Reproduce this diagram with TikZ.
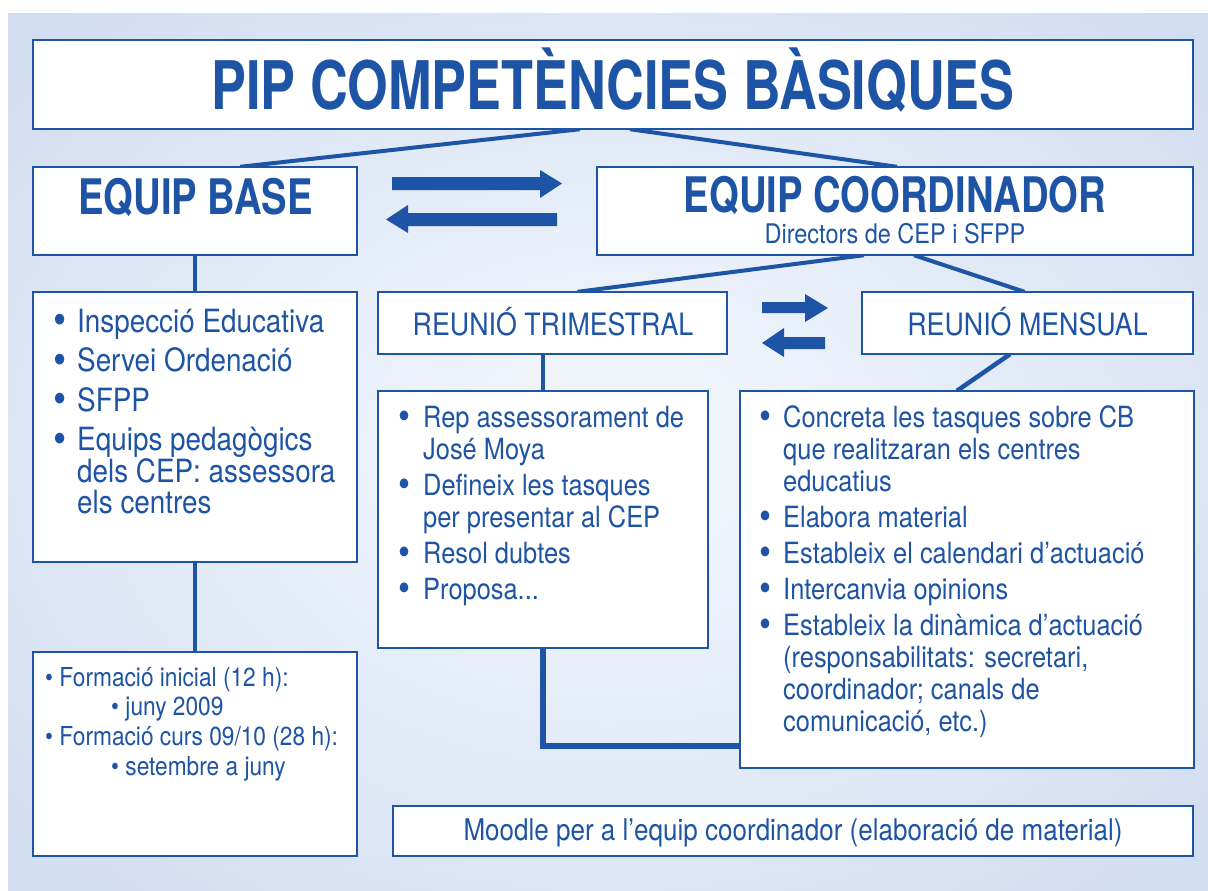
\documentclass[tikz,border=0pt]{standalone}
\usepackage{fontspec}
\setmainfont[FakeStretch=0.87]{TeX Gyre Heros}
\newfontfamily\headfont[FakeStretch=0.78]{TeX Gyre Heros}
\usetikzlibrary{calc}
\definecolor{pipblue}{RGB}{30,84,165}
\definecolor{bgin}{RGB}{239,244,251}
\definecolor{bgout}{RGB}{196,212,236}
\pgfdeclareradialshading{bgshade}{\pgfpoint{0bp}{0bp}}{color(0bp)=(bgin); color(6bp)=(bgin); color(46bp)=(bgout); color(70bp)=(bgout)}
\newcommand\blist[3]{\vtop{\hsize=700pt\parindent=0pt\baselineskip=#1\lineskiplimit=-100pt\lineskip=0pt\parskip=#2\relax\raggedright #3}}
\newcommand\bigbul{\raisebox{-2.6pt}{\scalebox{1.35}{•}}}
\newcommand\itm[2]{\hangindent=#1\hangafter=1\noindent\makebox[#1][l]{\bigbul}#2\par}
\begin{document}
\begin{tikzpicture}[x=1pt,y=-1pt,
  box/.style={draw=pipblue,fill=white,line width=2.4pt,inner sep=0pt},
  frame/.style={inner sep=0pt},
  conn/.style={draw=pipblue,line width=4.5pt},
  txt/.style={text=pipblue,inner sep=0pt,anchor=base},
  arrowfill/.style={fill=pipblue}]
\useasboundingbox (0,0) rectangle (1208,891);
\fill[white] (0,0) rectangle (1208,891);
\shade[shading=bgshade] (8,14) rectangle (1208,891);

% box geometry (named frames, used by the connectors)
\node[frame,minimum width=1160pt,minimum height=89pt] (title) at (613,84.5) {};
\node[frame,minimum width=324pt,minimum height=88pt] (base) at (195,211) {};
\node[frame,minimum width=596pt,minimum height=88pt] (coord) at (895,211) {};
\node[frame,minimum width=324pt,minimum height=270pt] (insp) at (195,427) {};
\node[frame,minimum width=324pt,minimum height=204pt] (form) at (195,754) {};
\node[frame,minimum width=349pt,minimum height=62pt] (trim) at (552.5,323) {};
\node[frame,minimum width=331pt,minimum height=62pt] (mens) at (1027.5,323) {};
\node[frame,minimum width=330pt,minimum height=257pt] (rep) at (543,519.5) {};
\node[frame,minimum width=454pt,minimum height=377pt] (conc) at (967,579.5) {};
\node[frame,minimum width=800pt,minimum height=50pt] (mood) at (793,831) {};

% connectors
\draw[conn,line width=4pt] ([xshift=-33pt]title.south) -- ([xshift=45pt]base.north);
\draw[conn,line width=4pt] ([xshift=17pt]title.south) -- ([xshift=2pt]coord.north);
\draw[conn,line width=4pt] ([xshift=-31pt]coord.south) -- ([xshift=25pt]trim.north);
\draw[conn,line width=4pt] ([xshift=19pt]coord.south) -- ([xshift=-3pt]mens.north);
\draw[conn] (base.south) -- (insp.north);
\draw[conn] (insp.south) -- (form.north);
\draw[conn] (rep.north) -- (rep.north |- trim.south);
\draw[conn,line width=5.5pt] (rep.south) |- ([yshift=-166.5pt]conc.west);
\draw[conn] ([xshift=-17.5pt]mens.south) -- ([xshift=-10pt]conc.north);

% visible boxes
\foreach \n in {title,base,coord,insp,form,trim,mens,rep,conc,mood}
  \draw[box] (\n.north west) rectangle (\n.south east);

% arrows
\fill[arrowfill] (392,177) -- (540,177) -- (540,170) -- (562,183.5) -- (540,198) -- (540,190) -- (392,190) -- cycle;
\fill[arrowfill] (386,219.5) -- (408,205) -- (408,213) -- (557,213) -- (557,226) -- (408,226) -- (408,233) -- cycle;
\fill[arrowfill] (762,302) -- (805,302) -- (805,294) -- (828,308) -- (805,322) -- (805,313) -- (762,313) -- cycle;
\fill[arrowfill] (762,343) -- (784,328) -- (784,337) -- (825,337) -- (825,349) -- (784,349) -- (784,357) -- cycle;

% texts
\node[txt] (ttitle) at (613,110) {\headfont\bfseries\fontsize{67}{70}\selectfont PIP COMPETÈNCIES BÀSIQUES};
\node[txt] (tbase) at (195.5,214.5) {\headfont\bfseries\fontsize{49}{52}\selectfont EQUIP BASE};
\node[txt] (tcoord) at (895,212.5) {\headfont\bfseries\fontsize{49}{52}\selectfont EQUIP COORDINADOR};
\node[txt] (tdir) at (895,243.5) {\fontsize{27}{30}\selectfont Directors de CEP i SFPP};
\node[txt] (ttrim) at (553,335) {\fontsize{30.8}{32}\selectfont REUNIÓ TRIMESTRAL};
\node[txt] (tmens) at (1027.5,335) {\fontsize{30.8}{32}\selectfont REUNIÓ MENSUAL};
\node[txt] (tmood) at (793,840) {\fontsize{29.9}{32}\selectfont Moodle per a l’equip coordinador (elaboració de material)};

\node[txt,anchor=base west] (tinsp) at (53,332) {\fontsize{32}{32}\selectfont\blist{31.5pt}{8pt}{%
\itm{24pt}{Inspecció Educativa}%
\itm{24pt}{Servei Ordenació}%
\itm{24pt}{SFPP}%
\itm{24pt}{Equips pedagògics\newline dels CEP: assessora\newline els centres}}};

\node[txt,anchor=base west] (tform) at (45,686) {\fontsize{26.1}{30}\selectfont\blist{29.7pt}{0pt}{%
\noindent• Formació inicial (12 h):\par
\noindent\hspace*{66pt}• juny 2009\par
\noindent• Formació curs 09/10 (28 h):\par
\noindent\hspace*{66pt}• setembre a juny\par}};

\node[txt,anchor=base west] (trep) at (398,427) {\fontsize{29.2}{32}\selectfont\blist{32pt}{4pt}{%
\itm{25pt}{Rep assessorament de\newline José Moya}%
\itm{25pt}{Defineix les tasques\newline per presentar al CEP}%
\itm{25pt}{Resol dubtes}%
\itm{25pt}{Proposa...}}};

\node[txt,anchor=base west] (tconc) at (759,427) {\fontsize{29.2}{32}\selectfont\blist{32pt}{4pt}{%
\itm{24pt}{Concreta les tasques sobre CB\newline que realitzaran els centres\newline educatius}%
\itm{24pt}{Elabora material}%
\itm{24pt}{Estableix el calendari d’actuació}%
\itm{24pt}{Intercanvia opinions}%
\itm{24pt}{Estableix la dinàmica d’actuació\newline (responsabilitats: secretari,\newline coordinador; canals de\newline comunicació, etc.)}}};
\end{tikzpicture}
\end{document}
